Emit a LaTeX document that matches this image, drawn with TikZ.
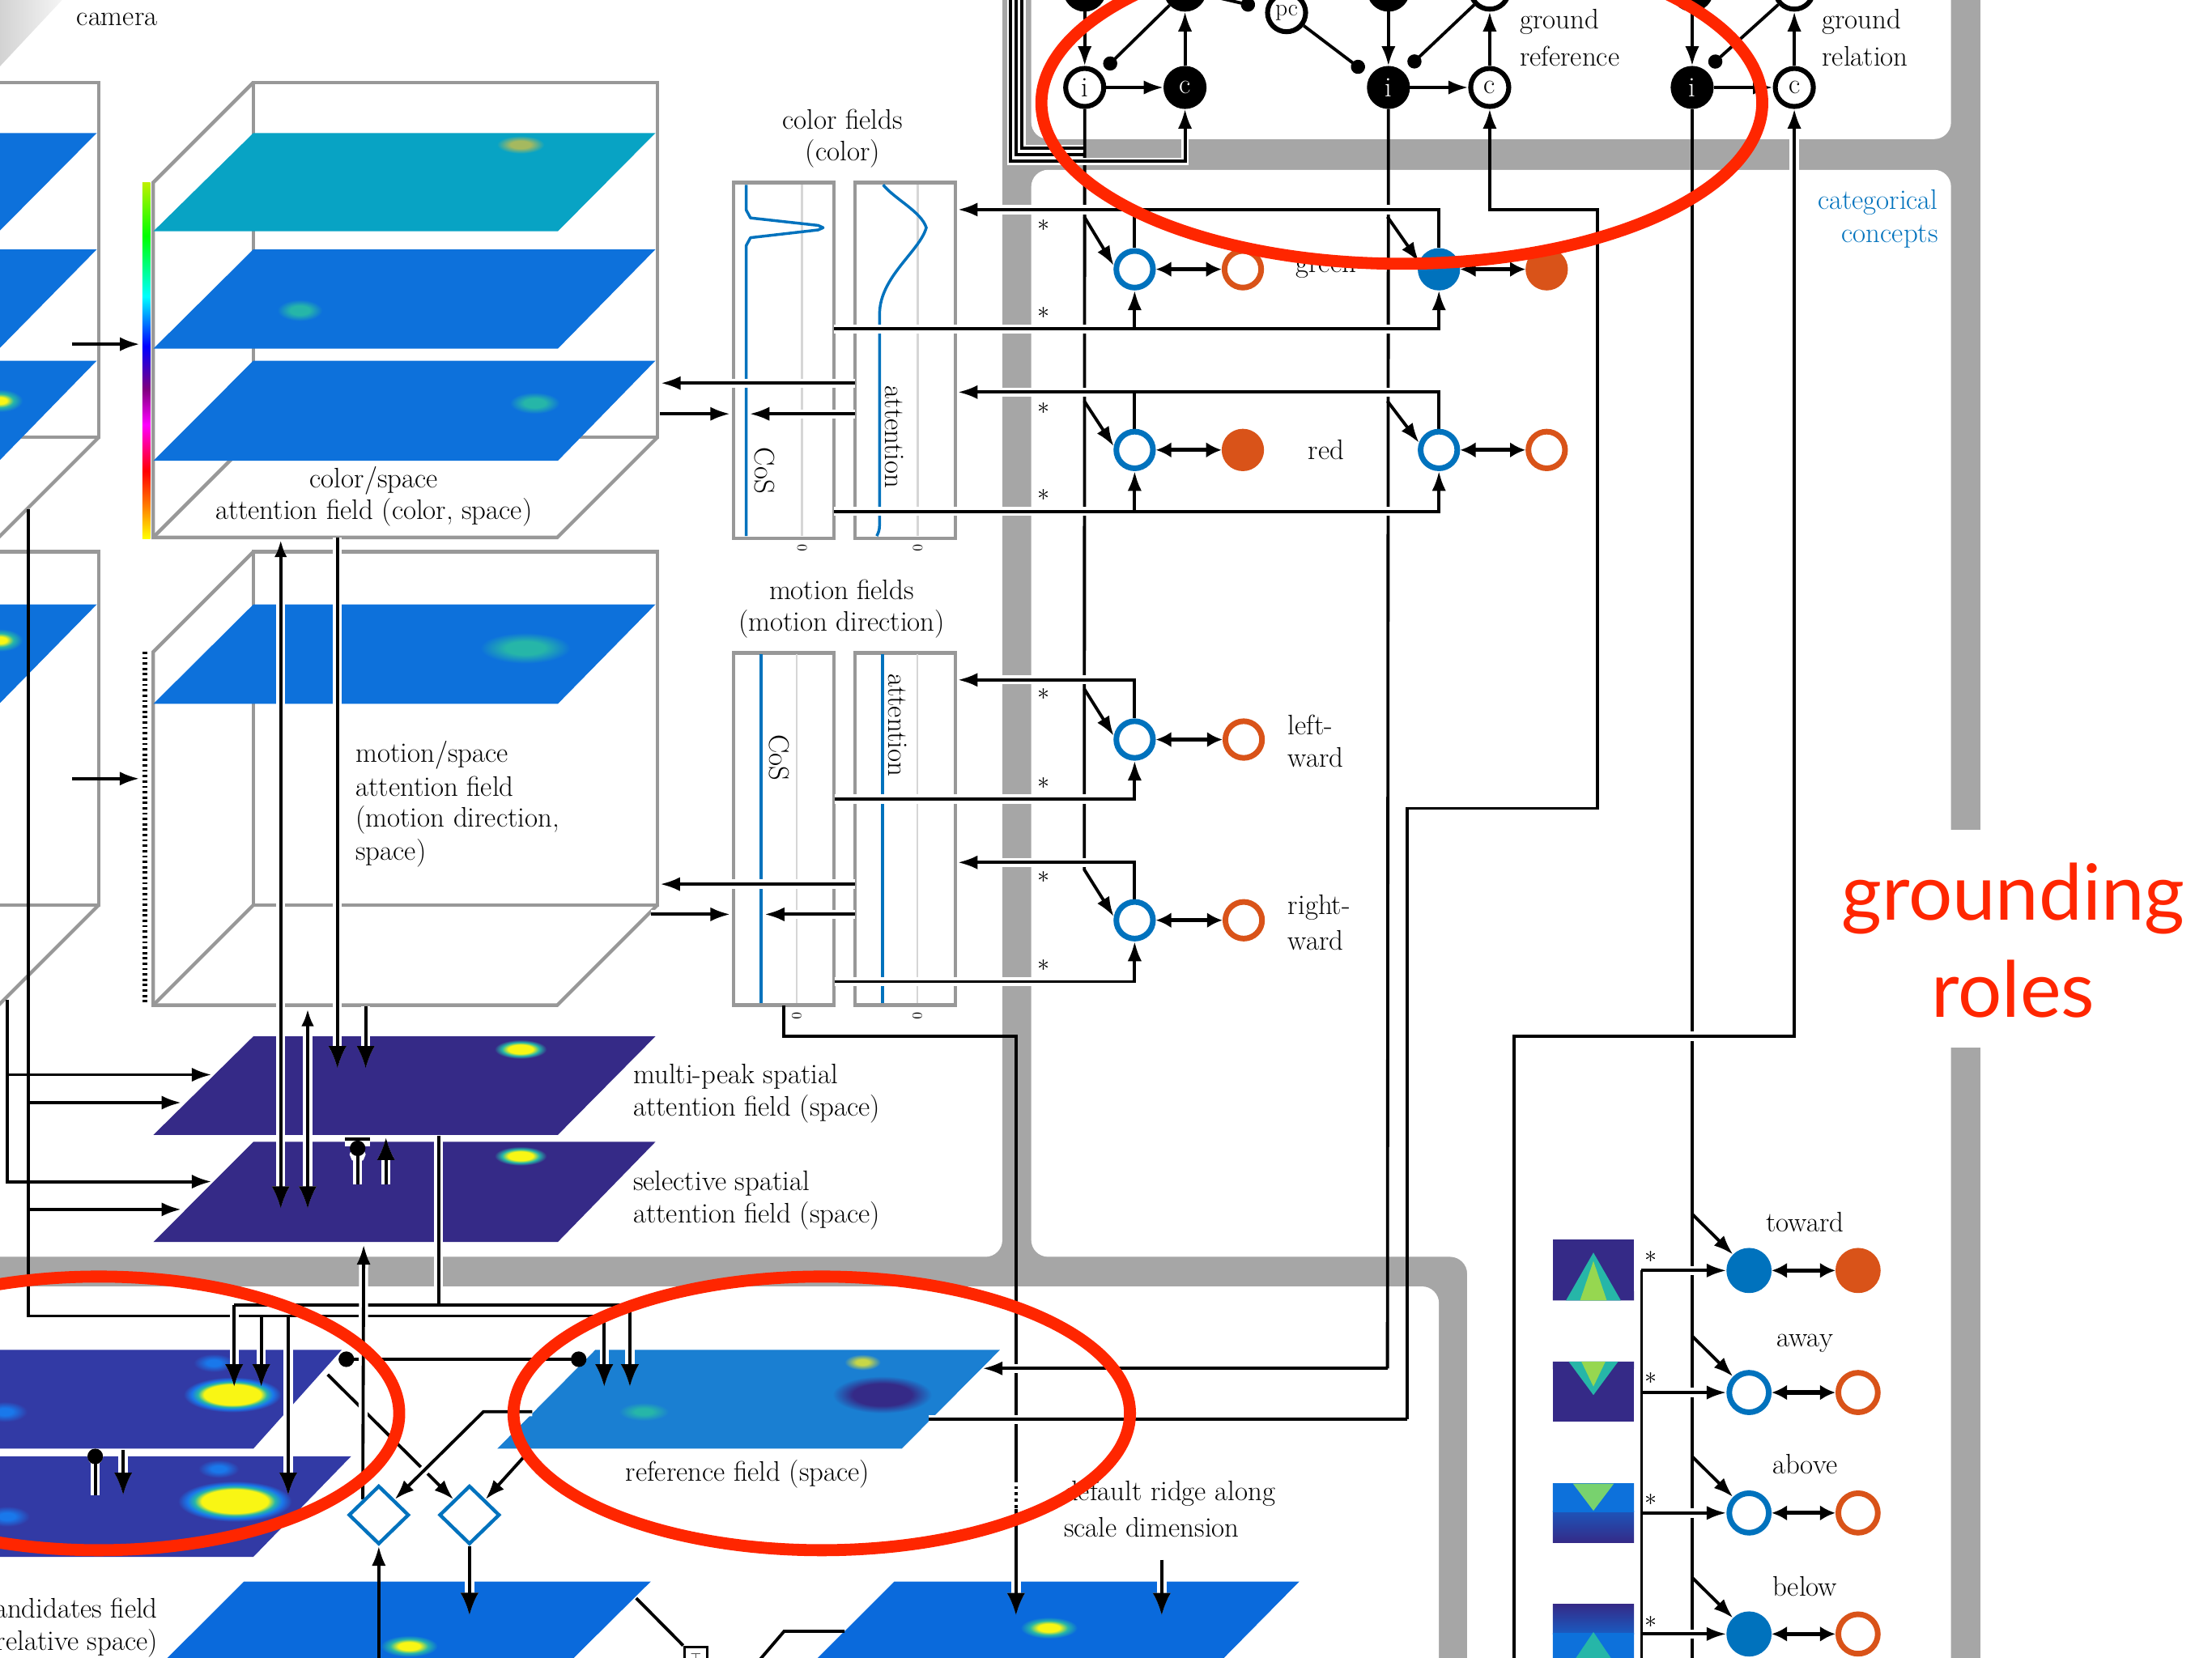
\documentclass[tikz,border=0pt]{standalone}
\usepackage{fontspec}
\newfontfamily\rolesfont{Lato}
\usetikzlibrary{arrows.meta,shapes.geometric}

\definecolor{panelgray}{RGB}{166,166,166}
\definecolor{boxgray}{RGB}{152,152,152}
\definecolor{rulegray}{RGB}{214,214,214}
\definecolor{lyrcyan}{RGB}{8,163,196}
\definecolor{lyrblue}{RGB}{13,113,219}
\definecolor{parudark}{RGB}{53,42,135}
\definecolor{candblue}{RGB}{50,58,165}
\definecolor{refblue}{RGB}{26,127,210}
\definecolor{botblue}{RGB}{10,106,220}
\definecolor{paruyel}{RGB}{249,246,20}
\definecolor{parucyan}{RGB}{38,182,168}
\definecolor{olivey}{RGB}{165,185,95}
\definecolor{refspot}{RGB}{200,215,70}
\definecolor{brightblue}{RGB}{25,120,235}
\definecolor{mblue}{RGB}{0,114,189}
\definecolor{morange}{RGB}{217,83,25}
\definecolor{annot}{RGB}{255,38,0}
\definecolor{thumbglow}{RGB}{120,210,110}
\definecolor{conegreen}{RGB}{150,215,80}
\definecolor{huetop}{RGB}{190,240,0}

% soft spots for the activation fields (the path fills the inner 25bp radius)
\pgfdeclareradialshading{spotolive}{\pgfpointorigin}{color(0bp)=(olivey); color(9bp)=(olivey); color(21bp)=(lyrcyan); color(50bp)=(lyrcyan)}
\pgfdeclareradialshading{spotteal}{\pgfpointorigin}{color(0bp)=(parucyan); color(9bp)=(parucyan); color(21bp)=(lyrblue); color(50bp)=(lyrblue)}
\pgfdeclareradialshading{spothotlayer}{\pgfpointorigin}{color(0bp)=(paruyel); color(6bp)=(paruyel); color(12bp)=(parucyan); color(20bp)=(lyrblue); color(50bp)=(lyrblue)}
\pgfdeclareradialshading{spotpurple}{\pgfpointorigin}{color(0bp)=(paruyel); color(10bp)=(paruyel); color(15bp)=(parucyan); color(21bp)=(parudark); color(50bp)=(parudark)}
\pgfdeclareradialshading{spotcand}{\pgfpointorigin}{color(0bp)=(paruyel); color(14bp)=(paruyel); color(17bp)=(parucyan); color(20bp)=(brightblue); color(24bp)=(candblue); color(50bp)=(candblue)}
\pgfdeclareradialshading{spotcandblue}{\pgfpointorigin}{color(0bp)=(brightblue); color(7bp)=(brightblue); color(20bp)=(candblue); color(50bp)=(candblue)}
\pgfdeclareradialshading{spotrefy}{\pgfpointorigin}{color(0bp)=(refspot); color(7bp)=(refspot); color(20bp)=(refblue); color(50bp)=(refblue)}
\pgfdeclareradialshading{spotrefdark}{\pgfpointorigin}{color(0bp)=(parudark); color(13bp)=(parudark); color(22bp)=(refblue); color(50bp)=(refblue)}
\pgfdeclareradialshading{spotrefteal}{\pgfpointorigin}{color(0bp)=(parucyan); color(7bp)=(parucyan); color(20bp)=(refblue); color(50bp)=(refblue)}
\pgfdeclareradialshading{spotbot}{\pgfpointorigin}{color(0bp)=(paruyel); color(8bp)=(paruyel); color(14bp)=(parucyan); color(21bp)=(botblue); color(50bp)=(botblue)}
% hue scale beside the colour cube (the bar fills the band 25bp..75bp)
\pgfdeclareverticalshading{huebar}{100bp}{color(0bp)=(yellow); color(25bp)=(yellow); color(29.5bp)=(orange); color(34.5bp)=(red); color(41bp)=(magenta); color(46bp)=(violet); color(52bp)=(blue); color(59bp)=(cyan); color(67.5bp)=(green); color(75bp)=(huetop); color(100bp)=(huetop)}

\pgfdeclarelayer{fg}
\pgfdeclarelayer{top}
\pgfsetlayers{main,fg,top}

% open cube: back face plus the visible front edges
\newcommand\cubeframe[2]{%
  \draw[cubeline] (179.6,#1) rectangle (466,#2);
  \draw[cubeline] (179.6,#1) -- (108.6,{#1+71}) -- (108.6,{#2+71}) -- (395,{#2+71}) -- (466,#2);
  \draw[cubeline] (179.6,#2) -- (108.6,{#2+71});}
% one field sheet inside a cube
\newcommand\fieldsheet[3]{\fill[#1] (179.6,#2) -- (464.6,#2) -- (395.4,#3) -- (108.7,#3) -- cycle;}
% one activation spot
\newcommand\fieldspot[5]{\shade[shading=#1] (#2,#3) ellipse [x radius=#4, y radius=#5];}

\begin{document}
\begin{tikzpicture}[x=1pt, y=-1pt,
  lbl/.style={font=\fontsize{20}{23.5}\selectfont, inner sep=0pt},
  smalllbl/.style={font=\fontsize{10}{10}\selectfont, inner sep=0pt},
  starlbl/.style={font=\fontsize{18}{18}\selectfont, inner sep=0pt},
  cubeline/.style={draw=boxgray, line width=2.5pt},
  panelline/.style={draw=boxgray, line width=2.5pt},
  wire/.style={draw=black, line width=2.2pt},
  bridge/.style={preaction={draw=white, line width=6.5pt}},
  thinbridge/.style={preaction={draw=white, line width=5pt}},
  tipA/.style={-{Latex[length=14pt,width=10pt]}},
  tipB/.style={-{Latex[length=16pt,width=13pt]}},
  inhib/.style={-{Circle[length=10pt]}},
  dblarr/.style={line width=3pt, {Latex[length=11pt,width=11pt]}-{Latex[length=11pt,width=11pt]}},
  cpt/.style={circle, minimum size=26pt, inner sep=0pt, line width=4pt},
  bring/.style={cpt, draw=mblue, fill=white},
  bdot/.style={cpt, draw=mblue, fill=mblue},
  oring/.style={cpt, draw=morange, fill=white},
  odot/.style={cpt, draw=morange, fill=morange},
  gring/.style={circle, minimum size=28pt, inner sep=0pt, line width=4pt, draw=mblue, fill=white},
  gdot/.style={circle, minimum size=28pt, inner sep=0pt, line width=4pt, draw=mblue, fill=mblue},
  goring/.style={circle, minimum size=28pt, inner sep=0pt, line width=4pt, draw=morange, fill=white},
  godot/.style={circle, minimum size=28pt, inner sep=0pt, line width=4pt, draw=morange, fill=morange},
  tnode/.style={circle, draw=black, line width=3.5pt, minimum size=27pt, inner sep=0pt, font=\fontsize{20}{20}\selectfont},
  tw/.style={tnode, fill=white},
  tb/.style={tnode, fill=black, text=white},
  gate/.style={diamond, draw=mblue, line width=2.5pt, fill=white, minimum width=42.8pt, minimum height=41.6pt, inner sep=0pt}]

\useasboundingbox (0,0) rectangle (1568,1175);

% ---------------- panels on the grey frame
\fill[white] (-10,-10) rectangle (1580,1185);
\fill[panelgray] (-30,-40) rectangle (1403.7,1200);
\fill[white, rounded corners=12pt] (-40,-50) rectangle (710.5,891);
\fill[white, rounded corners=12pt] (731,-50) rectangle (1383,98.6);
\fill[white, rounded corners=12pt] (731,120.4) -- (1383,120.4) -- (1383,1210) -- (1040,1210) -- (1040,891) -- (731,891) -- cycle;
\fill[white, rounded corners=12pt] (-40,912) rectangle (1020,1210);
\fill[white] (1375,588) rectangle (1412,742.8);

% corner of the camera image
\shade[left color=gray!35, right color=gray!8] (0,0) -- (44,0) -- (0,47) -- cycle;

% ---------------- colour cubes
\begin{scope}[xshift=-396pt]
  \cubeframe{58.4}{310}
  \fieldsheet{lyrblue}{94.3}{164}
  \fieldsheet{lyrblue}{176.8}{247.2}
  \fieldsheet{lyrblue}{255.7}{326.7}
\end{scope}
\fieldspot{spothotlayer}{0}{284}{20}{10}
\cubeframe{58.4}{310}
\fieldsheet{lyrcyan}{94.3}{164}
\fieldsheet{lyrblue}{176.8}{247.2}
\fieldsheet{lyrblue}{255.7}{326.7}
\fieldspot{spotolive}{369}{102.5}{20}{7.5}
\fieldspot{spotteal}{212.5}{220}{19}{9}
\fieldspot{spotteal}{379}{285.7}{21}{9}
\shade[shading=huebar] (101,129.4) rectangle (106.5,381.8);

% ---------------- motion cubes
\begin{scope}[xshift=-396pt]
  \cubeframe{391.2}{641.6}
  \fieldsheet{lyrblue}{428.5}{499}
\end{scope}
\fieldspot{spothotlayer}{0}{453.8}{20}{10}
\cubeframe{391.2}{641.6}
\fieldsheet{lyrblue}{428.5}{499}
\fieldspot{spotteal}{372.3}{459.4}{38}{13}
\draw[line width=3.5pt, dash pattern=on 1.6pt off 2.2pt] (102.5,462) -- (102.5,712.5);

% ---------------- colour and motion feature fields
\draw[panelline] (519.9,129.4) rectangle (591.2,381.8);
\draw[panelline] (606.1,129.4) rectangle (677.4,381.8);
\draw[rulegray, line width=1.6pt] (568.6,131) -- (568.6,380);
\draw[rulegray, line width=1.6pt] (650.6,131) -- (650.6,380);
\draw[mblue, line width=2pt, line join=round] (529,131) -- (529,149) -- (532,154.5) -- (580,159.8) -- (583.5,161.4) -- (580,163) -- (532,168.5) -- (529,174) -- (529,380);
\draw[mblue, line width=2pt] (626,131) .. controls (634,141) and (653,150) .. (656.6,161.4) .. controls (652,178) and (624,196) .. (623.5,222) -- (623.5,372) .. controls (623.5,376) and (622.5,378) .. (621.5,380);

\draw[panelline] (519.9,462.8) rectangle (591,712.6);
\draw[panelline] (605.9,462.8) rectangle (677.3,712.6);
\draw[rulegray, line width=1.6pt] (564.7,464) -- (564.7,711);
\draw[rulegray, line width=1.6pt] (650.3,464) -- (650.3,711);
\draw[mblue, line width=2pt] (539.6,464) -- (539.6,711);
\draw[mblue, line width=2pt] (625.6,464) -- (625.6,711);

% ---------------- spatial attention fields
\fill[parudark] (179.6,734.7) -- (464.6,734.7) -- (395.4,804.6) -- (108.7,804.6) -- cycle;
\fill[parudark] (179.6,809.5) -- (464.6,809.5) -- (395.4,880.5) -- (108.7,880.5) -- cycle;
\fieldspot{spotpurple}{369}{743.8}{22}{8}
\fieldspot{spotpurple}{369}{819.5}{22}{8}

% ---------------- candidates, reference and lower fields
\fill[candblue] (242.2,957) -- (-45,957) -- (-107,1027) -- (179.6,1027) -- cycle;
\fieldspot{spotcand}{164.7}{988.7}{36}{13}
\fieldspot{spotcandblue}{151.6}{966.2}{18}{8}
\fieldspot{spotcandblue}{3.3}{1000.8}{20}{9}
\fill[candblue] (248.8,1032.5) -- (-40,1032.5) -- (-110,1103.7) -- (179.6,1103.7) -- cycle;
\fieldspot{spotcand}{166.4}{1064.3}{42}{15}
\fieldspot{spotcandblue}{154.9}{1041.3}{18}{8}
\fieldspot{spotcandblue}{5}{1075}{20}{9}

\fill[refblue] (422,957) -- (708.8,957) -- (639.2,1027) -- (352.5,1027) -- cycle;
\fieldspot{spotrefy}{611.4}{965.7}{16}{7}
\fieldspot{spotrefdark}{625.3}{988.7}{40}{15}
\fieldspot{spotrefteal}{456.3}{1000.8}{22}{8}

\fill[botblue] (173,1121.2) -- (461.3,1121.2) -- (402,1180) -- (114,1180) -- cycle;
\fieldspot{spotbot}{290}{1167}{24}{9}
\fill[botblue] (634,1121.2) -- (921,1121.2) -- (863,1180) -- (575,1180) -- cycle;
\fieldspot{spotbot}{743.5}{1154}{24}{9}

% ---------------- relational templates
\fill[parudark] (1100.7,878.8) rectangle (1158.2,922);
\begin{scope}
  \clip (1100.7,878.8) rectangle (1158.2,922);
  \shade[left color=parudark, middle color=lyrblue, right color=parudark] (1129.5,884) -- (1094,922) -- (1165,922) -- cycle;
  \shade[left color=parucyan, middle color=paruyel, right color=parucyan] (1129.5,888) -- (1110,922) -- (1149,922) -- cycle;
  \shade[left color=conegreen, middle color=paruyel, right color=conegreen] (1129.5,894) -- (1120,922) -- (1139,922) -- cycle;
\end{scope}
\fill[parudark] (1100.7,965.3) rectangle (1158.2,1008);
\begin{scope}
  \clip (1100.7,965.3) rectangle (1158.2,1008);
  \shade[left color=parudark, middle color=lyrblue, right color=parudark] (1129.5,994) -- (1094,965.3) -- (1165,965.3) -- cycle;
  \shade[left color=parucyan, middle color=paruyel, right color=parucyan] (1129.5,989) -- (1112,965.3) -- (1147,965.3) -- cycle;
  \shade[left color=conegreen, middle color=paruyel, right color=conegreen] (1129.5,983) -- (1121,965.3) -- (1138,965.3) -- cycle;
\end{scope}
\begin{scope}
  \clip (1100.7,1051.8) rectangle (1158.2,1093.8);
  \shade[top color=lyrblue!60!parudark, bottom color=parudark] (1100.7,1071) rectangle (1158.2,1093.8);
  \shade[left color=lyrblue, middle color=thumbglow, right color=lyrblue] (1100.7,1051.8) rectangle (1158.2,1072);
  \shade[left color=thumbglow, middle color=paruyel, right color=thumbglow] (1129.5,1071) -- (1115,1051.8) -- (1144,1051.8) -- cycle;
\end{scope}
\begin{scope}
  \clip (1100.7,1137.2) rectangle (1158.2,1180);
  \shade[top color=parudark, bottom color=lyrblue!70!parudark] (1100.7,1137.2) rectangle (1158.2,1158.4);
  \shade[left color=lyrblue, middle color=parucyan, right color=lyrblue] (1100.7,1158) rectangle (1158.2,1180);
  \shade[left color=parucyan, middle color=paruyel, right color=parucyan] (1129.5,1157) -- (1114,1180) -- (1145,1180) -- cycle;
\end{scope}

% ---------------- nodes
\begin{pgfonlayer}{fg}
  % neural process nodes
  \node[tw] (i1) at (768.9,62) {i};
  \node[tb] (c1) at (840,62) {c};
  \node[tb] (i2) at (984.2,62) {i};
  \node[tw] (c2) at (1056,62) {c};
  \node[tb] (i3) at (1199.5,62) {i};
  \node[tw] (c3) at (1271.9,62) {c};
  \node[tb] (t1) at (768.9,-7) {};
  \node[tb] (t2) at (840,-7) {};
  \node[tw, font=\fontsize{17}{17}\selectfont] (pc) at (912,9) {pc};
  \node[tb] (t3) at (984.2,-7) {};
  \node[tw] (t4) at (1056,-7) {};
  \node[tb] (t5) at (1199.5,-7) {};
  \node[tw] (t6) at (1271.9,-7) {};
  % categorical concepts
  \node[bring] (gB1) at (804.3,190.9) {};
  \node[oring] (gO1) at (881,190.9) {};
  \node[bdot] (gB2) at (1020,190.9) {};
  \node[odot] (gO2) at (1096.4,190.9) {};
  \node[bring] (rB1) at (804.3,319) {};
  \node[odot] (rO1) at (881,319) {};
  \node[bring] (rB2) at (1020,319) {};
  \node[oring] (rO2) at (1096.4,319) {};
  \node[bring] (lB) at (804.3,524.3) {};
  \node[oring] (lO) at (881.6,524.3) {};
  \node[bring] (wB) at (804.3,652.4) {};
  \node[oring] (wO) at (881.6,652.4) {};
  % spatial relations
  \node[gdot] (tB) at (1239.8,900.7) {};
  \node[godot] (tO) at (1317.1,900.7) {};
  \node[gring] (aB) at (1239.8,987.2) {};
  \node[goring] (aO) at (1317.1,987.2) {};
  \node[gring] (abB) at (1239.8,1072.6) {};
  \node[goring] (abO) at (1317.1,1072.6) {};
  \node[gdot] (beB) at (1239.8,1158.4) {};
  \node[goring] (beO) at (1317.1,1158.4) {};
  % transformation gates
  \node[gate] (d1) at (268.5,1074) {};
  \node[gate] (d2) at (332.8,1074) {};
  \node[draw, fill=white, line width=1.8pt, minimum size=16pt, inner sep=0pt, font=\fontsize{10}{10}\selectfont] (tbox) at (493.2,1175.5) {$\top$};

  % labels
  \node[lbl] (camtxt) at (83,13.5) {camera};
  \node[lbl] (cs1) at (265,340.8) {color/space};
  \node[lbl] (cs2) at (265,363.3) {attention field (color, space)};
  \node[lbl, anchor=west] (ms1) at (252,535.5) {motion/space};
  \node[lbl, anchor=west] (ms2) at (252,557.6) {attention field};
  \node[lbl, anchor=west] (ms3) at (252,581.3) {(motion direction,};
  \node[lbl, anchor=west] (ms4) at (252,604.7) {space)};
  \node[lbl] (cf1) at (597.4,84.5) {color fields};
  \node[lbl] (cf2) at (597.4,109) {(color)};
  \node[lbl] (mf1) at (596.6,417.9) {motion fields};
  \node[lbl] (mf2) at (596.6,442.3) {(motion direction)};
  \node[lbl, rotate=-90] (cosc) at (541.8,333.7) {CoS};
  \node[lbl, rotate=-90] (attc) at (634,310) {attention};
  \node[lbl, rotate=-90] (cosm) at (552.1,537) {CoS};
  \node[lbl, rotate=-90] (attm) at (636.2,514) {attention};
  \node[smalllbl, rotate=-90] (z1) at (568.6,388.5) {0};
  \node[smalllbl, rotate=-90] (z2) at (650.6,388.5) {0};
  \node[smalllbl, rotate=-90] (z3) at (564.7,720.3) {0};
  \node[smalllbl, rotate=-90] (z4) at (650.3,720.3) {0};
  \node[lbl, anchor=west] (mp1) at (448.8,763) {multi-peak spatial};
  \node[lbl, anchor=west] (mp2) at (448.8,786) {attention field (space)};
  \node[lbl, anchor=west] (sel1) at (448.8,839) {selective spatial};
  \node[lbl, anchor=west] (sel2) at (448.8,862) {attention field (space)};
  \node[lbl] (reflbl) at (530,1045) {reference field (space)};
  \node[lbl, anchor=west] (rdg1) at (754,1058.8) {default ridge along};
  \node[lbl, anchor=west] (rdg2) at (754,1082.9) {scale dimension};
  \node[lbl, anchor=east] (cand1) at (112,1139.8) {candidates field};
  \node[lbl, anchor=east] (cand2) at (112,1165) {(relative space)};
  \node[lbl, anchor=west] (gr1) at (1077.3,15.4) {ground};
  \node[lbl, anchor=west] (gr2) at (1077.3,39.7) {reference};
  \node[lbl, anchor=west] (gl1) at (1291.5,15.4) {ground};
  \node[lbl, anchor=west] (gl2) at (1291.5,39.7) {relation};
  \node[lbl, anchor=east, text=mblue] (cat1) at (1374,143.5) {categorical};
  \node[lbl, anchor=east, text=mblue] (cat2) at (1374,167.8) {concepts};
  \node[lbl] (gtxt) at (940,190.9) {green};
  \node[lbl] (rtxt) at (940,319) {red};
  \node[lbl, anchor=west] (lt1) at (912.9,514) {left-};
  \node[lbl, anchor=west] (lt2) at (912.9,537) {ward};
  \node[lbl, anchor=west] (rt1) at (912.9,643.4) {right-};
  \node[lbl, anchor=west] (rt2) at (912.9,666.5) {ward};
  \node[lbl] (towtxt) at (1279.4,866.1) {toward};
  \node[lbl] (awtxt) at (1279.4,952.6) {away};
  \node[lbl] (abtxt) at (1279.4,1038) {above};
  \node[lbl] (betxt) at (1279.4,1124.4) {below};
  \foreach \sy in {160,221.6,289.5,351,492.2,555,621.6,684.4}
    \node[starlbl] at (740,\sy) {$\ast$};
  \foreach \sy in {891.3,977.1,1063.2,1149.6}
    \node[starlbl] at (1170.5,\sy) {$\ast$};
  \node[font=\rolesfont\fontsize{55}{55}\selectfont, text=annot, anchor=base, inner sep=0pt] (role1) at (1427,652.2) {grounding};
  \node[font=\rolesfont\fontsize{55}{55}\selectfont, text=annot, anchor=base, inner sep=0pt] (role2) at (1427,721.4) {roles};
\end{pgfonlayer}

% ---------------- long connections
\draw[wire] (555.4,712.6) -- (555.4,734.4) -- (720.2,734.4) -- (720.2,1049);
\draw[line width=2.2pt, dash pattern=on 2pt off 2.5pt] (720.2,1049) -- (720.2,1070);
\draw[wire, bridge, tipB] (720.2,1070) -- (720.2,1145.3);

\draw[wire, bridge, tipA] (983.5,970.1) -- (696.6,970.1);
\draw[wire, bridge] (658.3,1006.2) -- (997.5,1006.2);
\draw[wire] (i2) -- (983.5,970.1);
\draw[wire, tipA] (997.5,1006.2) -- (997.5,573.1) -- (1132.5,573.1) -- (1132.5,148.6) -- (1056,148.6) -- (c2);

\draw[wire, thinbridge] (768.6,105) -- (724.5,105) -- (724.5,-20);
\draw[wire, thinbridge] (768.6,109.7) -- (720.5,109.7) -- (720.5,-20);
\draw[wire, tipA] (i1) -- (768.6,616.5) -- (wB.170);
\draw[wire, thinbridge, tipA] (716.5,-20) -- (716.5,114.4) -- (840,114.4) -- (c1);

\draw[wire] (i3) -- (1199.5,1190);
\draw[wire, bridge, tipA] (1073.2,1190) -- (1073.2,734.6) -- (1271.9,734.6) -- (c3);

% template inputs to the relation nodes
\draw[wire, bridge, tipA] (1163.6,900.7) -- (tB);
\draw[wire, bridge, tipA] (1163.6,987.2) -- (aB);
\draw[wire, bridge, tipA] (1163.6,1072.6) -- (abB);
\draw[wire, bridge, tipA] (1163.6,1158.4) -- (beB);
\draw[wire] (1163.6,900.7) -- (1163.6,1190);
\draw[wire, tipA] (1199.5,860.7) -- (tB.135);
\draw[wire, tipA] (1199.5,947.2) -- (aB.135);
\draw[wire, tipA] (1199.5,1032.6) -- (abB.135);
\draw[wire, tipA] (1199.5,1118.4) -- (beB.135);

% concept inputs from the process nodes
\draw[wire, tipA] (768.6,153.7) -- (gB1.170);
\draw[wire, tipA] (768.6,284.4) -- (rB1.170);
\draw[wire, tipA] (768.6,488.4) -- (lB.170);
\draw[wire, tipA] (983.5,153.7) -- (gB2.160);
\draw[wire, tipA] (983.5,284.4) -- (rB2.160);

% concepts <-> feature fields
\draw[wire, bridge, tipA] (gB2.north) |- (679,148.6);
\draw[wire, bridge, tipA] (591.2,233.2) -| (gB2.south);
\draw[wire] (gB1.north) -- (804.3,148.6);
\draw[wire, tipA] (804.3,233.2) -- (gB1.south);
\draw[wire, bridge, tipA] (rB2.north) |- (679,278);
\draw[wire, bridge, tipA] (591.2,362.5) -| (rB2.south);
\draw[wire] (rB1.north) -- (804.3,278);
\draw[wire, tipA] (804.3,362.5) -- (rB1.south);
\draw[wire, bridge, tipA] (lB.north) |- (679,482);
\draw[wire, bridge, tipA] (591.7,566.5) -| (lB.south);
\draw[wire, bridge, tipA] (wB.north) |- (679,611.4);
\draw[wire, bridge, tipA] (591.7,695.9) -| (wB.south);

% cubes <-> feature fields
\draw[wire, bridge, tipA] (606.1,271.6) -- (468.5,271.6);
\draw[wire, bridge, tipA] (468,293.4) -- (517.5,293.4);
\draw[wire, bridge, tipA] (606.1,293.4) -- (531.4,293.4);
\draw[wire, bridge, tipA] (605.9,626.8) -- (468,626.8);
\draw[wire, bridge, tipA] (461.3,648.2) -- (517.6,648.2);
\draw[wire, bridge, tipA] (605.9,648.2) -- (542,648.2);

% concept competition
\draw[dblarr] (gB1) -- (gO1);
\draw[dblarr] (gB2) -- (gO2);
\draw[dblarr] (rB1) -- (rO1);
\draw[dblarr] (rB2) -- (rO2);
\draw[dblarr] (lB) -- (lO);
\draw[dblarr] (wB) -- (wO);
\draw[dblarr] (tB) -- (tO);
\draw[dblarr] (aB) -- (aO);
\draw[dblarr] (abB) -- (abO);
\draw[dblarr] (beB) -- (beO);

% process node couplings
\draw[wire, tipA] (t1) -- (i1);
\draw[wire, tipA] (i1) -- (c1);
\draw[wire, tipA] (c1) -- (t2);
\draw[wire, tipA] (t3) -- (i2);
\draw[wire, tipA] (i2) -- (c2);
\draw[wire, tipA] (c2) -- (t4);
\draw[wire, tipA] (t5) -- (i3);
\draw[wire, tipA] (i3) -- (c3);
\draw[wire, tipA] (c3) -- (t6);
\draw[wire, inhib] (t2) -- (783.4,48.5);
\draw[wire, inhib] (t2) -- (889.5,4.4);
\draw[wire, inhib] (pc) -- (966.6,50.4);
\draw[wire, inhib] (t4) -- (999,47);
\draw[wire, inhib] (t6) -- (1212.2,47);

% ---------------- left side inputs
\draw[wire, tipA] (51,244) -- (99,244);
\draw[wire, tipA] (51,552) -- (98.8,552);
\draw[wire, tipA] (5,709) -- (5,837.7) -- (150,837.7);
\draw[wire, tipA] (5,761.9) -- (150,761.9);
\draw[wire, tipA] (20,781.7) -- (128.5,781.7);
\draw[wire, tipA] (20,857.4) -- (128.5,857.4);
\draw[wire, bridge, tipB] (185.2,932.9) -- (185.2,983.2);
\draw[wire, bridge, tipB] (204.3,932.9) -- (204.3,1060);
\draw[wire, bridge, tipB] (428.3,932.9) -- (428.3,983.2);
\draw[wire] (20,361) -- (20,932.9) -- (428.3,932.9);
\draw[wire, bridge, tipB] (166,925.2) -- (166,983.2);
\draw[wire, bridge, tipB] (446.5,925.2) -- (446.5,983.2);
\draw[wire, bridge] (310.9,805) -- (310.9,925.2);
\draw[wire] (166,925.2) -- (446.5,925.2);

% between the attention fields
\draw[wire, bridge, {Latex[length=12pt,width=9pt]}-{Latex[length=16pt,width=13pt]}] (199,383) -- (199,857);
\draw[wire, bridge, {Latex[length=12pt,width=9pt]}-{Latex[length=16pt,width=13pt]}] (218.1,715.5) -- (218.1,857);
\draw[wire, bridge, tipB] (239.2,381) -- (239.2,757.6);
\draw[wire, bridge, tipB] (259.2,713.6) -- (259.2,757.6);
\draw[wire, bridge, -{Circle[length=11pt] Bar[width=18pt]}] (253.5,839.8) -- (253.5,806.4);
\draw[wire, bridge, tipB] (273.6,839.8) -- (273.6,806.4);

% candidates, reference and gates
\draw[wire, bridge, -{Circle[length=11pt]}] (67.5,1060) -- (67.5,1027);
\draw[wire, bridge, tipB] (87.3,1028) -- (87.3,1060);
\draw[wire, {Circle[length=11pt]}-{Circle[length=11pt]}] (240,963.6) -- (415.7,963.6);
\draw[wire, bridge, tipA] (232.3,974.5) -- (d2.north west);
\draw[wire, bridge, tipA] (377.3,1000.8) -- (342.7,1000.8) -- (d1.north east);
\draw[wire, bridge, tipA] (373,1031) -- (d2.north east);
\draw[wire, tipA] (268.5,1190) -- (d1.south);
\draw[wire, bridge, tipB] (d2.south) -- (332.8,1145.2);
\draw[wire, bridge, tipA] (d1.north west) -- (257.8,882.5);
\draw[wire] (451,1133) -- (tbox.north west);
\draw[wire] (535.7,1180) -- (555.8,1156.5) -- (598.7,1156.5);
\draw[wire, bridge, tipB] (823.5,1105.8) -- (823.5,1145.3);

% ---------------- highlighted regions
\begin{pgfonlayer}{top}
  \draw[annot, line width=8.5pt] (993.7,73) ellipse [x radius=255.5, y radius=114];
  \draw[annot, line width=8.5pt] (70,1002) ellipse [x radius=213, y radius=97];
  \draw[annot, line width=8.5pt] (582.5,1002) ellipse [x radius=218.5, y radius=97];
\end{pgfonlayer}
\end{tikzpicture}
\end{document}
